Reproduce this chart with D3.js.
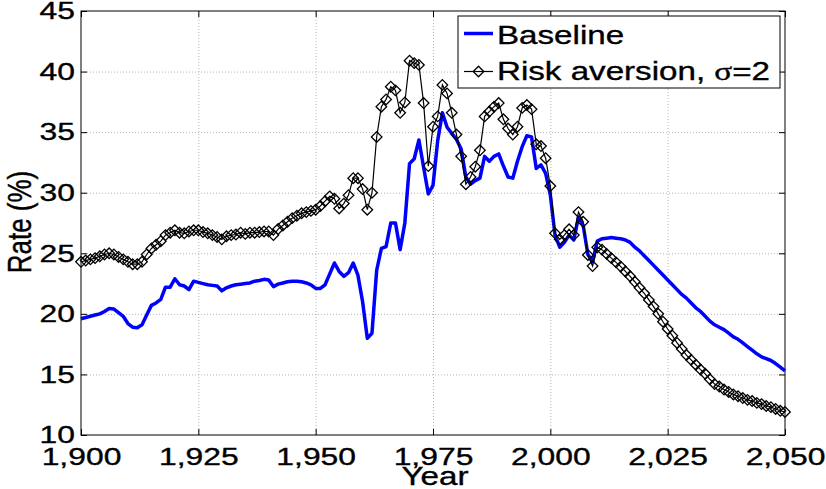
<html>
<head>
<title>Rate</title>
<script src="https://d3js.org/d3.v7.min.js" charset="utf-8"></script>
<style>
  body { margin: 0; background: white; }
  text { font-family: "Liberation Sans", Arial, Helvetica, sans-serif; fill: black; stroke: black; stroke-width: 0.35px; }
  .grid line { stroke: #b4b4b4; stroke-dasharray: 1,2; }
  .grid path, .axis path { display: none; }
  .axis line { stroke: black; }
</style>
</head>
<body>
<script>
var xTicks = [1900, 1925, 1950, 1975, 2000, 2025, 2050];
var yTicks = [10, 15, 20, 25, 30, 35, 40, 45];
var firstYear = 1900;

// one value per year, 1900..2050
var baseline = [
  19.6, 19.7, 19.8, 19.9, 20.0, 20.2, 20.45, 20.4, 20.1, 19.8,
  19.2, 18.9, 18.85, 19.1, 19.9, 20.7, 20.9, 21.2, 22.2, 22.2,
  22.9, 22.4, 22.3, 22.0, 22.7, 22.6, 22.5, 22.4, 22.35, 22.3,
  21.9, 22.15, 22.3, 22.4, 22.45, 22.5, 22.55, 22.7, 22.75, 22.85,
  22.8, 22.25, 22.45, 22.55, 22.65, 22.7, 22.7, 22.65, 22.55, 22.4,
  22.1, 22.1, 22.4, 23.3, 24.2, 23.5, 23.1, 23.4, 24.2, 23.2,
  21.0, 17.98, 18.4, 23.6, 25.4, 25.55, 27.5, 27.5, 25.3, 27.5,
  32.4, 32.8, 34.35, 32.1, 29.9, 30.6, 34.3, 36.6, 35.4, 34.9,
  34.4, 33.6, 31.3, 30.7, 31.0, 31.2, 33.0, 32.6, 33.0, 33.2,
  32.2, 31.3, 31.2, 32.6, 33.8, 34.7, 34.6, 32.0, 32.3, 31.6,
  29.8, 26.5, 25.5, 25.9, 26.5, 26.1, 28.0, 27.3, 24.9, 24.3,
  26.0, 26.2, 26.25, 26.3, 26.25, 26.2, 26.1, 25.9, 25.5, 25.2,
  24.8, 24.4, 24.0, 23.6, 23.2, 22.8, 22.4, 22.0, 21.6, 21.3,
  20.9, 20.5, 20.2, 19.8, 19.4, 19.1, 18.9, 18.7, 18.4, 18.1,
  17.9, 17.6, 17.3, 17.0, 16.7, 16.45, 16.3, 16.15, 15.9, 15.6,
  15.3
];

var riskAversion = [
  24.3, 24.4, 24.5, 24.6, 24.75, 24.9, 25.0, 24.9, 24.7, 24.5,
  24.3, 24.1, 24.1, 24.3, 24.9, 25.4, 25.7, 26.0, 26.5, 26.7,
  26.9, 26.7, 26.65, 26.8, 26.9, 26.9, 26.75, 26.65, 26.5, 26.35,
  26.15, 26.4, 26.5, 26.55, 26.7, 26.6, 26.7, 26.7, 26.75, 26.8,
  26.8, 26.5, 27.0, 27.3, 27.6, 27.9, 28.1, 28.3, 28.4, 28.5,
  28.6, 28.9, 29.3, 29.7, 29.5, 28.7, 29.1, 29.8, 31.2, 31.2,
  30.3, 28.6, 30.0, 34.6, 37.1, 37.7, 38.75, 38.45, 36.6, 37.45,
  40.9, 40.7, 40.55, 37.4, 32.2, 35.45, 36.3, 38.9, 38.2, 36.6,
  34.8, 33.0, 30.7, 31.3, 32.15, 33.5, 36.3, 36.7, 37.1, 37.4,
  36.06, 35.3, 34.8, 35.45, 37.0, 37.24, 36.9, 34.0, 33.85, 32.85,
  30.55, 26.65, 26.15, 26.5, 26.98, 26.5, 28.4, 27.6, 24.86, 23.95,
  25.5, 25.3, 24.95, 24.6, 24.25, 23.9, 23.5, 23.1, 22.65, 22.15,
  21.7, 21.15, 20.6, 20.0, 19.35, 18.75, 18.2, 17.6, 17.1, 16.6,
  16.2, 15.8, 15.4, 15.05, 14.6, 14.2, 14.0, 13.75, 13.55, 13.35,
  13.2, 13.05, 12.9, 12.8, 12.65, 12.55, 12.4, 12.3, 12.15, 12.0,
  11.9
];

var width = 826, height = 489;
var plotLeft = 81, plotTop = 11, plotRight = 785, plotBottom = 435;
var stretch = 1.3;   // the picture is wider than the font

var years = d3.range(firstYear, firstYear + baseline.length);

var x = d3.scaleLinear().domain([1900, 2050]).range([plotLeft, plotRight]);
var y = d3.scaleLinear().domain([10, 45]).range([plotBottom, plotTop]);

var svg = d3.select("body")
  .append("svg")
  .attr("width", width)
  .attr("height", height);

// dotted grid
svg.append("g").attr("class", "grid")
  .attr("transform", "translate(0," + plotBottom + ")")
  .call(d3.axisBottom(x).tickValues(xTicks.slice(1, -1)).tickSize(-(plotBottom - plotTop)).tickFormat(""));
svg.append("g").attr("class", "grid")
  .attr("transform", "translate(" + plotLeft + ",0)")
  .call(d3.axisLeft(y).tickValues(yTicks.slice(1, -1)).tickSize(-(plotRight - plotLeft)).tickFormat(""));

// axes with inward ticks
var xAxis = svg.append("g").attr("class", "axis")
  .attr("transform", "translate(0," + plotBottom + ")")
  .call(d3.axisBottom(x).tickValues(xTicks).tickFormat(d3.format(","))
    .tickSizeInner(-6).tickSizeOuter(0).tickPadding(13));
var yAxis = svg.append("g").attr("class", "axis")
  .attr("transform", "translate(" + plotLeft + ",0)")
  .call(d3.axisLeft(y).tickValues(yTicks)
    .tickSizeInner(-6).tickSizeOuter(0).tickPadding(6 / stretch));
svg.append("g").attr("class", "axis")
  .attr("transform", "translate(0," + plotTop + ")")
  .call(d3.axisTop(x).tickValues(xTicks).tickFormat("").tickSizeInner(-6).tickSizeOuter(0));
svg.append("g").attr("class", "axis")
  .attr("transform", "translate(" + plotRight + ",0)")
  .call(d3.axisRight(y).tickValues(yTicks).tickFormat("").tickSizeInner(-6).tickSizeOuter(0));

[xAxis, yAxis].forEach(function(a) {
  a.attr("font-size", 24.5).attr("font-family", null);
  a.selectAll("text").attr("transform", "scale(" + stretch + ",1)");
});

svg.append("rect")
  .attr("x", plotLeft).attr("y", plotTop)
  .attr("width", plotRight - plotLeft).attr("height", plotBottom - plotTop)
  .attr("fill", "none").attr("stroke", "black").attr("stroke-width", 1);

// series
var line = d3.line()
  .x(function(d, i) { return x(years[i]); })
  .y(function(d) { return y(d); });

svg.append("path")
  .datum(baseline)
  .attr("fill", "none")
  .attr("stroke", "#0000ff")
  .attr("stroke-width", 3.5)
  .attr("stroke-linejoin", "round")
  .attr("d", line);

svg.append("path")
  .datum(riskAversion)
  .attr("fill", "none")
  .attr("stroke", "black")
  .attr("stroke-width", 1.2)
  .attr("d", line);

var diamond = d3.symbol().type(d3.symbolSquare).size(56);

svg.append("g").selectAll("path")
  .data(riskAversion)
  .enter()
  .append("path")
  .attr("d", diamond)
  .attr("transform", function(d, i) { return "translate(" + x(years[i]) + "," + y(d) + ") rotate(45)"; })
  .attr("fill", "none")
  .attr("stroke", "black")
  .attr("stroke-width", 1.3);

// axis titles
svg.append("text")
  .attr("transform", "translate(435,485) scale(" + stretch + ",1)")
  .attr("text-anchor", "middle")
  .attr("font-size", 25.5)
  .text("Year");

svg.append("text")
  .attr("transform", "translate(31,222) scale(" + stretch + ",1) rotate(-90)")
  .attr("text-anchor", "middle")
  .attr("font-size", 26)
  .text("Rate (%)");

// legend
var legend = svg.append("g");
legend.append("rect")
  .attr("x", 458).attr("y", 16)
  .attr("width", 322).attr("height", 72)
  .attr("fill", "white").attr("stroke", "black").attr("stroke-width", 1);

legend.append("line")
  .attr("x1", 464).attr("x2", 493).attr("y1", 33.5).attr("y2", 33.5)
  .attr("stroke", "#0000ff").attr("stroke-width", 3.5);
legend.append("text")
  .attr("transform", "translate(497,43.5) scale(" + stretch + ",1)")
  .attr("font-size", 25.5)
  .text("Baseline");

legend.append("line")
  .attr("x1", 464).attr("x2", 493).attr("y1", 71.5).attr("y2", 71.5)
  .attr("stroke", "black").attr("stroke-width", 1.2);
legend.append("path")
  .attr("d", diamond)
  .attr("transform", "translate(478.5,71.5) rotate(45)")
  .attr("fill", "none").attr("stroke", "black").attr("stroke-width", 1.3);
var riskLabel = legend.append("text")
  .attr("transform", "translate(497,79.5) scale(" + stretch + ",1)")
  .attr("font-size", 25.5);
riskLabel.append("tspan").text("Risk aversion, ");
riskLabel.append("tspan").style("font-family", "'Liberation Serif', 'Times New Roman', serif").text("\u03c3");
riskLabel.append("tspan").text("=2");
</script>
</body>
</html>
